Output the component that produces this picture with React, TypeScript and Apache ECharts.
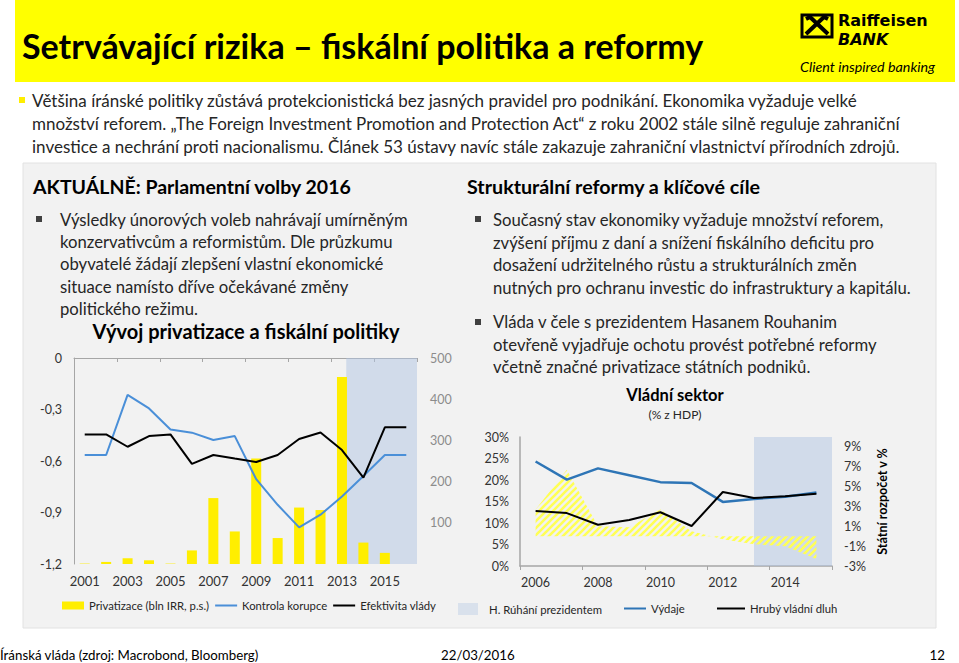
import React, { useEffect, useRef } from 'react';
import * as echarts from 'echarts';

const FONT = 'Lato, "Noto Sans", sans-serif';
const LOGO_FONT = '"DejaVu Sans", Lato, sans-serif';

// ---- left chart data ----
const yearsA = ['2001','2002','2003','2004','2005','2006','2007','2008','2009','2010','2011','2012','2013','2014','2015','2016'];
const privatizace = [1, 5, 14, 9, 1, 33, 160, 79, 256, 63, 137, 131, 454, 52, 27, null];
const kontrolaKorupce = [-0.565, -0.565, -0.215, -0.294, -0.416, -0.435, -0.478, -0.455, -0.706, -0.855, -0.987, -0.913, -0.807, -0.687, -0.565, -0.565];
const efektivitaVlady = [-0.445, -0.445, -0.517, -0.455, -0.445, -0.617, -0.565, -0.586, -0.606, -0.565, -0.472, -0.434, -0.536, -0.697, -0.404, -0.404];
const presidentLeft = [2013.2, 2016.5];

// ---- right chart data ----
const yearsB = ['2006','2007','2008','2009','2010','2011','2012','2013','2014','2015'];
const vydaje = [24.3, 20.1, 22.7, 21.1, 19.5, 19.3, 14.9, 15.6, 16.1, 17.1];
const hrubyDluh = [12.8, 12.3, 9.6, 10.7, 12.5, 9.3, 17.2, 15.8, 16.2, 16.8];
const statniRozpocet = [2.7, 6.7, 1.0, 0.9, 2.7, 0.5, -0.3, -0.8, -1.0, -2.3];
const presidentRight = [2013, 2015.5];

// ---- texts ----
const slideTitle = 'Setrvávající rizika – fiskální politika a reformy';
const introLines = [
  'Většina íránské politiky zůstává protekcionistická bez jasných pravidel pro podnikání. Ekonomika vyžaduje velké',
  'množství reforem. „The Foreign Investment Promotion and Protection Act“ z roku 2002 stále silně reguluje zahraniční',
  'investice a nechrání proti nacionalismu. Článek 53 ústavy navíc stále zakazuje zahraniční vlastnictví přírodních zdrojů.',
];
const leftHeading = 'AKTUÁLNĚ: Parlamentní volby 2016';
const leftLines = [
  'Výsledky únorových voleb nahrávají umírněným',
  'konzervativcům a reformistům. Dle průzkumu',
  'obyvatelé žádají zlepšení vlastní ekonomické',
  'situace namísto dříve očekávané změny',
  'politického režimu.',
];
const rightHeading = 'Strukturální reformy a klíčové cíle';
const rightLines1 = [
  'Současný stav ekonomiky vyžaduje množství reforem,',
  'zvýšení příjmu z daní a snížení fiskálního deficitu pro',
  'dosažení udržitelného růstu a strukturálních změn',
  'nutných pro ochranu investic do infrastruktury a kapitálu.',
];
const rightLines2 = [
  'Vláda v čele s prezidentem Hasanem Rouhanim',
  'otevřeně vyjadřuje ochotu provést potřebné reformy',
  'včetně značné privatizace státních podniků.',
];
const chartTitleLeft = 'Vývoj privatizace a fiskální politiky';
const chartTitleRight = 'Vládní sektor';
const chartSubRight = '(% z HDP)';
const footerLeft = 'Íránská vláda (zdroj: Macrobond, Bloomberg)';
const footerDate = '22/03/2016';
const footerPage = '12';

function txt(x: number, y: number, text: string, size: number, o: any = {}) {
  return {
    type: 'text', x, y, z: 50, silent: true,
    style: {
      text, fontSize: size, fontFamily: o.family || FONT,
      fontWeight: o.bold ? 'bold' : 'normal',
      fontStyle: o.italic ? 'italic' : 'normal',
      fill: o.fill || '#262626',
      textAlign: o.align || 'left',
      textVerticalAlign: 'middle',
    },
  };
}

const hiddenSym = { color: 'rgba(0,0,0,0)', opacity: 0, borderWidth: 0 };

export default function App() {
  const ref = useRef<HTMLDivElement>(null);
  useEffect(() => {
    if (!ref.current) return;
    const chart = echarts.init(ref.current, null, { renderer: 'svg' });

    const c = document.createElement('canvas');
    c.width = 7; c.height = 7;
    const ctx = c.getContext('2d')!;
    ctx.strokeStyle = '#ffff55';
    ctx.lineWidth = 2.6;
    ctx.beginPath();
    ctx.moveTo(-1, 8); ctx.lineTo(8, -1);
    ctx.moveTo(-4.5, 4.5); ctx.lineTo(4.5, -4.5);
    ctx.moveTo(2.5, 11.5); ctx.lineTo(11.5, 2.5);
    ctx.stroke();
    const hatch: any = { image: c, repeat: 'repeat', imageWidth: 7, imageHeight: 7 };

    const graphics: any[] = [];
    // header
    graphics.push({ type: 'rect', z: -10, silent: true, shape: { x: 15, y: 0, width: 940, height: 82 }, style: { fill: '#ffff00' } });
    graphics.push(txt(22, 45, slideTitle, 34, { bold: true, fill: '#000' }));
    // logo
    graphics.push({ type: 'rect', z: 40, silent: true, shape: { x: 802, y: 15, width: 30, height: 22 }, style: { fill: '#ffff00', stroke: '#000', lineWidth: 3 } });
    graphics.push({ type: 'polyline', z: 41, silent: true, shape: { points: [[806, 19], [810, 17], [828, 34]] }, style: { stroke: '#000', lineWidth: 4, fill: null } });
    graphics.push({ type: 'polyline', z: 41, silent: true, shape: { points: [[828, 19], [824, 17], [806, 34]] }, style: { stroke: '#000', lineWidth: 4, fill: null } });
    graphics.push(txt(838, 20, 'Raiffeisen', 16, { bold: true, fill: '#000', family: LOGO_FONT }));
    graphics.push(txt(838, 39.5, 'BANK', 16, { bold: true, italic: true, fill: '#000', family: LOGO_FONT }));
    graphics.push(txt(800, 66, 'Client inspired banking', 14.3, { italic: true, fill: '#000' }));
    // intro bullet
    graphics.push({ type: 'rect', z: 40, silent: true, shape: { x: 19, y: 97, width: 6, height: 6 }, style: { fill: '#ffee00' } });
    introLines.forEach((l, i) => graphics.push(txt(32, 100 + i * 23, l, 17)));
    // panel
    graphics.push({ type: 'rect', z: -10, silent: true, shape: { x: 23, y: 163, width: 913, height: 465 }, style: { fill: '#f2f2f2', stroke: '#e2e2e2', lineWidth: 1 } });
    graphics.push(txt(33, 186, leftHeading, 19.5, { bold: true, fill: '#000' }));
    graphics.push({ type: 'rect', z: 40, silent: true, shape: { x: 36, y: 216, width: 6, height: 6 }, style: { fill: '#404040' } });
    leftLines.forEach((l, i) => graphics.push(txt(60, 220 + i * 22.2, l, 16.7)));
    graphics.push(txt(246, 331, chartTitleLeft, 20, { bold: true, fill: '#000', align: 'center' }));
    graphics.push(txt(467, 186, rightHeading, 19.7, { bold: true, fill: '#000' }));
    graphics.push({ type: 'rect', z: 40, silent: true, shape: { x: 475, y: 216, width: 6, height: 6 }, style: { fill: '#404040' } });
    rightLines1.forEach((l, i) => graphics.push(txt(493, 220 + i * 22.5, l, 16.7)));
    graphics.push({ type: 'rect', z: 40, silent: true, shape: { x: 475, y: 319, width: 6, height: 6 }, style: { fill: '#404040' } });
    rightLines2.forEach((l, i) => graphics.push(txt(493, 322 + i * 22.5, l, 16.7)));
    graphics.push(txt(675, 395, chartTitleRight, 16.5, { bold: true, fill: '#000', align: 'center' }));
    graphics.push(txt(675, 414, chartSubRight, 12, { align: 'center' }));
    // footer
    graphics.push(txt(0, 655, footerLeft, 13.3, { fill: '#000' }));
    graphics.push(txt(441, 655, footerDate, 13.3, { fill: '#000' }));
    graphics.push(txt(945, 655, footerPage, 13.3, { fill: '#000', align: 'right' }));

    const axisLabel = { fontFamily: FONT, fontSize: 12.5, color: '#333' };
    const legendText = { fontFamily: FONT, fontSize: 11.3, color: '#262626' };

    chart.setOption({
      animation: false,
      backgroundColor: '#ffffff',
      graphic: { elements: graphics },
      grid: [
        { left: 74, top: 358, width: 343, height: 206 },
        { left: 520, top: 437, width: 312, height: 129 },
      ],
      legend: [
        { left: 62, top: 600, padding: 0, itemGap: 5, itemWidth: 22, itemHeight: 8, selectedMode: false, textStyle: legendText,
          data: [
            { name: 'Privatizace (bln IRR, p.s.)', icon: 'rect' },
            { name: 'Kontrola korupce', itemStyle: hiddenSym },
            { name: 'Efektivita vlády', itemStyle: hiddenSym },
          ] },
        { left: 458, top: 603, padding: 0, itemWidth: 20, itemHeight: 12, selectedMode: false, textStyle: { ...legendText, padding: [0, 0, 0, 6] },
          data: [{ name: 'H. Rúhání prezidentem', icon: 'rect' }] },
        { left: 623, top: 603, padding: 0, itemWidth: 22, itemHeight: 8, selectedMode: false, textStyle: legendText,
          data: [{ name: 'Výdaje', itemStyle: hiddenSym }] },
        { left: 716, top: 603, padding: 0, itemWidth: 28, itemHeight: 8, selectedMode: false, textStyle: legendText,
          data: [{ name: 'Hrubý vládní dluh', itemStyle: hiddenSym }] },
      ],
      xAxis: [
        { gridIndex: 0, type: 'category', data: yearsA, position: 'top',
          axisLine: { show: true, lineStyle: { color: '#a6a6a6', width: 1 } },
          axisTick: { show: true, inside: true, length: 4, lineStyle: { color: '#a6a6a6' } },
          axisLabel: { show: false }, splitLine: { show: false } },
        { gridIndex: 0, type: 'category', data: yearsA, position: 'bottom',
          axisLine: { show: false }, axisTick: { show: false },
          axisLabel: { ...axisLabel, fontSize: 13, interval: 1, margin: 10 } },
        { gridIndex: 0, type: 'value', min: 2000.5, max: 2016.5, show: false },
        { gridIndex: 1, type: 'category', data: yearsB, position: 'bottom',
          axisLine: { show: true, lineStyle: { color: '#a6a6a6', width: 1.5 } },
          axisTick: { show: true, length: 4, lineStyle: { color: '#a6a6a6' } },
          axisLabel: { ...axisLabel, interval: 1, margin: 10 } },
        { gridIndex: 1, type: 'value', min: 2005.5, max: 2015.5, show: false },
      ],
      yAxis: [
        { gridIndex: 0, type: 'value', min: -1.2, max: 0, interval: 0.3, position: 'left',
          axisLine: { show: true, lineStyle: { color: '#a6a6a6' } }, axisTick: { show: false }, splitLine: { show: false },
          axisLabel: { ...axisLabel, margin: 12, formatter: (v: number) => (Math.abs(v) < 1e-9 ? '0' : v.toFixed(1).replace('.', ',')) } },
        { gridIndex: 0, type: 'value', min: 0, max: 500, interval: 100, position: 'right',
          axisLine: { show: false }, axisTick: { show: false }, splitLine: { show: false },
          axisLabel: { ...axisLabel, color: '#8c8c8c', margin: 13, showMinLabel: false } },
        { gridIndex: 1, type: 'value', min: 0, max: 30, interval: 5, position: 'left',
          axisLine: { show: true, lineStyle: { color: '#a6a6a6', width: 1.5 } }, axisTick: { show: false }, splitLine: { show: false },
          axisLabel: { ...axisLabel, margin: 11, formatter: (v: number) => v + '%' } },
        { gridIndex: 1, type: 'value', min: -3, max: 10, interval: 2, position: 'right',
          axisLine: { show: false }, axisTick: { show: false }, splitLine: { show: false },
          axisLabel: { ...axisLabel, margin: 12, showMaxLabel: false, formatter: (v: number) => v + '%' },
          name: 'Státní rozpočet v %', nameLocation: 'middle', nameRotate: 90, nameGap: 44,
          nameTextStyle: { fontFamily: FONT, fontSize: 12.5, fontWeight: 'bold', color: '#000' } },
      ],
      series: [
        { name: 'Privatizace (bln IRR, p.s.)', type: 'bar', xAxisIndex: 1, yAxisIndex: 1, data: privatizace,
          barWidth: 10, itemStyle: { color: '#ffee00' }, z: 2 },
        { name: 'Kontrola korupce', type: 'line', xAxisIndex: 1, yAxisIndex: 0, data: kontrolaKorupce,
          symbol: 'none', lineStyle: { color: '#4a8fd8', width: 2 }, itemStyle: { color: '#4a8fd8' }, z: 3 },
        { name: 'Efektivita vlády', type: 'line', xAxisIndex: 1, yAxisIndex: 0, data: efektivitaVlady,
          symbol: 'none', lineStyle: { color: '#000', width: 2 }, itemStyle: { color: '#000' }, z: 3 },
        { name: 'shadeLeft', type: 'line', xAxisIndex: 2, yAxisIndex: 0, data: [], z: 5, silent: true,
          markArea: { silent: true, itemStyle: { color: 'rgba(176,196,226,0.5)' },
            data: [[{ xAxis: presidentLeft[0] }, { xAxis: presidentLeft[1] }]] } },
        { name: 'Státní rozpočet', type: 'line', xAxisIndex: 3, yAxisIndex: 3, data: statniRozpocet,
          symbol: 'none', lineStyle: { width: 0, opacity: 0 }, areaStyle: { color: hatch, opacity: 1 }, z: 2 },
        { name: 'Výdaje', type: 'line', xAxisIndex: 3, yAxisIndex: 2, data: vydaje,
          symbol: 'none', lineStyle: { color: '#2e75b6', width: 2.5 }, itemStyle: { color: '#2e75b6' }, z: 3 },
        { name: 'Hrubý vládní dluh', type: 'line', xAxisIndex: 3, yAxisIndex: 2, data: hrubyDluh,
          symbol: 'none', lineStyle: { color: '#000', width: 2 }, itemStyle: { color: '#000' }, z: 3 },
        { name: 'H. Rúhání prezidentem', type: 'line', xAxisIndex: 4, yAxisIndex: 2, data: [], z: 5, silent: true,
          color: '#d9e1ec', itemStyle: { color: '#d9e1ec' }, lineStyle: { color: '#d9e1ec' },
          markArea: { silent: true, itemStyle: { color: 'rgba(176,196,226,0.5)' },
            data: [[{ xAxis: presidentRight[0] }, { xAxis: presidentRight[1] }]] } },
      ],
    });
    return () => chart.dispose();
  }, []);
  return <div ref={ref} style={{ position: 'absolute', left: 0, top: 0, width: 959, height: 663 }} />;
}
